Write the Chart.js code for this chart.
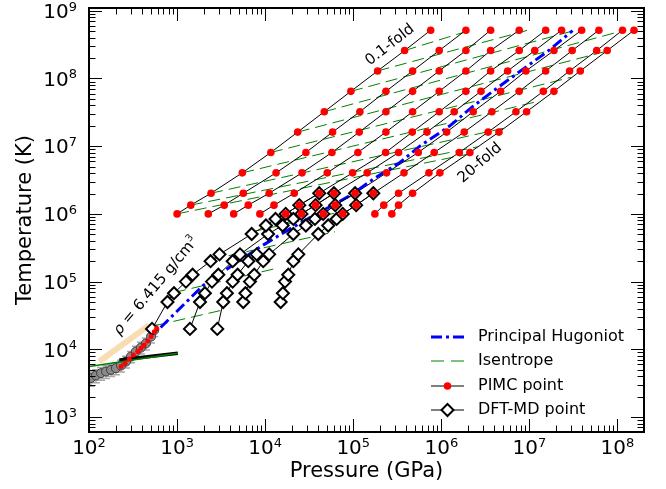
<!DOCTYPE html>
<html>
<head>
<meta charset="utf-8">
<script src="https://cdn.jsdelivr.net/npm/chart.js@4"></script>
<style>
  html, body { margin: 0; padding: 0; background: #fff; }
  #wrap { width: 666px; height: 489px; }
</style>
</head>
<body>
<div id="wrap"><canvas id="chart" width="666" height="489"></canvas></div>
<script>
// PIMC isochores: temperatures (K) and pressures (GPa), 0.1-fold ... 20-fold
const pimcT = [1.0e6, 1.347e6, 2.02e6, 4.04e6, 8.08e6, 1.616e7, 3.232e7, 6.464e7, 1.293e8, 2.586e8, 5.172e8];
const iso01 = [1000, 1430, 2430, 5500, 11600, 23400, 46900, 94000, 189000, 383000, 757000];
const iso025 = [2260, 3430, 5640, 13300, 29000, 58300, 119000, 235000, 472000, 946000, 1.9e6];
const iso05 = [4390, 6430, 11100, 26200, 57300, 117000, 235000, 472000, 946000, 1.9e6, 3.63e6];
const iso1 = [8710, 12600, 21400, 50700, 113000, 235000, 472000, 946000, 1.9e6, 3.63e6, 7.66e6];
const iso2 = [17100, 24400, 41100, 98400, 233000, 468000, 946000, 1.9e6, 3.63e6, 7.66e6, 1.53e7];
const iso3 = [25800, 37400, 60400, 144000, 327000, 687000, 1.4e6, 2.82e6, 5.66e6, 1.15e7, 2.32e7];
const iso5 = [45600, 62400, 105000, 239000, 547000, 1.15e6, 2.3e6, 4.71e6, 9.12e6, 1.9e7, 3.92e7];
const iso8 = [76000, 108000, 169000, 377000, 830000, 1.82e6, 3.75e6, 7.66e6, 1.53e7, 3.06e7, 6.15e7];
const iso15 = [176000, 222000, 327000, 723000, 1.6e6, 3.4e6, 7.03e6, 1.44e7, 2.86e7, 5.8e7, 1.14e8];
const iso20 = [274000, 327000, 472000, 964000, 2.11e6, 4.51e6, 9.29e6, 1.9e7, 3.78e7, 7.64e7, 1.54e8];

// DFT-MD isochores (null = no point at that temperature)
const dftT = [2.0e4, 5.0e4, 6.74e4, 1.0e5, 1.263e5, 2.0e5, 2.526e5, 5.05e5, 6.74e5, 8.42e5, 1.0e6, 1.347e6, 2.02e6];
const dftA = [520, 778, 922, 1260, 1500, 2400, 3030, 7030, 10200, 13100, 17100, 24400, 41100];
const dftB = [1400, 1820, 2070, 2490, 2940, 4280, 5180, 10800, 15800, 20900, 25800, 37400, 60400];
const dftC = [2860, 3340, 3680, 4280, 4870, 6430, 8010, null, null, null, null, null, null];
const dftD = [null, 5640, 5970, 6720, 7520, 9510, 11100, 20900, 29000, 36700, 45600, 62400, 105000];
const dftE = [null, 15000, 15900, 16800, 18300, 20900, 23800, 40100, 52000, 64800, 76000, 108000, 169000];

// principal Hugoniot
const hugP = [650, 1980, 4000, 8720, 19100, 41900, 91800, 169000, 339000, 570000, 1.25e6, 2.3e6, 4.6e6, 9.3e6, 1.71e7, 3.09e7];
const hugT = [2.1e4, 8.8e4, 1.64e5, 3.24e5, 6.0e5, 1.06e6, 1.86e6, 3.27e6, 5.76e6, 1.0e7, 2.0e7, 3.9e7, 7.7e7, 1.5e8, 2.67e8, 5.1e8];

// isentropes: start and end points
const isenP0 = [1000, 1430, 2430, 5500, 11600, 23400, 46900, 94200, 189000, 383000, 575, 922, 2430, 7080];
const isenT0 = [1.0e6, 1.347e6, 2.02e6, 4.04e6, 8.08e6, 1.616e7, 3.232e7, 6.464e7, 1.293e8, 2.586e8, 2.25e4, 6.89e4, 2.11e5, 5.43e5];
const isenP1 = [2.0e6, 2.58e6, 5.07e6, 1.31e7, 2.96e7, 7.59e7, 1.18e8, 3.28e7, 9.4e6, 2.11e6, 3500, 12900, 61900, 80500];
const isenT1 = [7.62e6, 9.8e6, 1.84e7, 4.66e7, 1.04e8, 2.54e8, 5.13e8, 5.13e8, 5.13e8, 5.13e8, 3.87e4, 1.55e5, 5.43e5, 1.11e6];

// low temperature data near the left edge
const expP = [105, 120, 137, 156, 178, 202, 231, 263, 300, 341, 389, 443, 506, 551];
const expT = [3750, 4100, 4440, 4700, 4960, 5260, 5760, 6590, 7810, 9250, 10600, 12200, 15400, 19200];
const expPErr = [8, 9, 10, 12, 13, 15, 17, 20, 22, 25, 29, 33, 38, 41];
const expTErr = [900, 900, 950, 1000, 1000, 1050, 1150, 1300, 1500, 1800, 2100, 2400, 3000, 3800];
const lowRedP = [231, 258, 287, 318, 357, 389, 424, 464, 506, 551, 586];
const lowRedT = [5570, 6230, 7200, 8240, 9250, 10400, 11600, 13200, 15400, 18200, 20400];
const peachP = [131, 483];
const peachT = [6590, 22700];
const greenLowP = [101, 1020];
const greenLowT = [5570, 8730];
const blackLowP = [221, 1020];
const blackLowT = [6970, 8730];

const FONT = "'DejaVu Sans', 'Liberation Sans', sans-serif";

function pts(ps, ts) {
  return ps.map((p, i) => ({ x: p, y: ts[i] })).filter((d) => d.x != null);
}

const datasets = [];

datasets.push({ data: pts(peachP, peachT), showLine: true, borderColor: "#f8dcb2", borderWidth: 6, pointRadius: 0, order: 100 });
datasets.push({ data: pts(expP, expT), showLine: false, pointRadius: 4.5, backgroundColor: "#8a8a8a", borderColor: "#3c3c3c", borderWidth: 1, order: 95 });
datasets.push({ data: pts(blackLowP, blackLowT), showLine: true, borderColor: "#000", borderWidth: 3.5, pointRadius: 0, order: 91 });
datasets.push({ data: pts(greenLowP, greenLowT), showLine: true, borderColor: "#008000", borderWidth: 1.5, pointRadius: 0, order: 90 });

isenP0.forEach((p, i) => {
  datasets.push({
    data: [{ x: p, y: isenT0[i] }, { x: isenP1[i], y: isenT1[i] }],
    showLine: true, borderColor: "#008000", borderWidth: 1, borderDash: [12, 6], pointRadius: 0, order: 80,
  });
});

const pimcLines = [iso01, iso025, iso05, iso1, iso2, iso3, iso5, iso8, iso15, iso20];
pimcLines.forEach((line) => {
  datasets.push({ data: pts(line, pimcT), showLine: true, borderColor: "#000", borderWidth: 1, pointRadius: 0, order: 60 });
});

datasets.push({
  data: pts(hugP, hugT), showLine: true, borderColor: "#0000ff", borderWidth: 3,
  borderDash: [11, 4, 3, 4], pointRadius: 0, order: 50,
});

[dftA, dftB, dftC, dftD, dftE].forEach((chain) => {
  datasets.push({
    data: pts(chain, dftT), showLine: true, borderColor: "#000", borderWidth: 1,
    pointStyle: "rectRot", pointRadius: 6, pointBackgroundColor: "#fff",
    pointBorderColor: "#000", pointBorderWidth: 2, order: 40,
  });
});

datasets.push({ data: pts(lowRedP, lowRedT), showLine: false, pointRadius: 2.5, backgroundColor: "#ff0000", borderWidth: 0, order: 30 });
datasets.push({
  data: pimcLines.flatMap((line) => pts(line, pimcT)),
  showLine: false, pointRadius: 3.8, backgroundColor: "#ff0000", borderWidth: 0, order: 20,
});

// error bars of the low temperature data
const errorBars = {
  id: "errorBars",
  beforeDatasetsDraw(chart) {
    const { ctx, chartArea: a, scales: { x, y } } = chart;
    ctx.save();
    ctx.beginPath();
    ctx.rect(a.left, a.top, a.right - a.left, a.bottom - a.top);
    ctx.clip();
    ctx.strokeStyle = "#a8a8a8";
    ctx.lineWidth = 1.5;
    expP.forEach((p, i) => {
      const px = x.getPixelForValue(p), py = y.getPixelForValue(expT[i]);
      const x0 = x.getPixelForValue(p - expPErr[i]), x1 = x.getPixelForValue(p + expPErr[i]);
      const y0 = y.getPixelForValue(expT[i] - expTErr[i]), y1 = y.getPixelForValue(expT[i] + expTErr[i]);
      ctx.beginPath();
      ctx.moveTo(px, y0); ctx.lineTo(px, y1);
      ctx.moveTo(px - 4, y0); ctx.lineTo(px + 4, y0);
      ctx.moveTo(px - 4, y1); ctx.lineTo(px + 4, y1);
      ctx.moveTo(x0, py); ctx.lineTo(x1, py);
      ctx.moveTo(x0, py - 3); ctx.lineTo(x0, py + 3);
      ctx.moveTo(x1, py - 3); ctx.lineTo(x1, py + 3);
      ctx.stroke();
    });
    ctx.restore();
  },
};

function measureParts(ctx, parts) {
  let w = 0;
  parts.forEach((p) => { ctx.font = p.font; p.w = ctx.measureText(p.t).width; w += p.w; });
  return w;
}

function rotText(ctx, parts, cx, cy, deg) {
  ctx.save();
  ctx.translate(cx, cy);
  ctx.rotate((deg * Math.PI) / 180);
  const w = measureParts(ctx, parts);
  let xx = -w / 2;
  ctx.textAlign = "left";
  ctx.textBaseline = "middle";
  parts.forEach((p) => { ctx.font = p.font; ctx.fillText(p.t, xx, p.dy || 0); xx += p.w; });
  ctx.restore();
}

// axes frame, inward ticks, labels, annotations and legend
const frame = {
  id: "frame",
  afterDraw(chart) {
    const { ctx, chartArea: a, scales: { x, y } } = chart;
    ctx.save();
    ctx.fillStyle = "#000";
    ctx.strokeStyle = "#000";
    ctx.lineWidth = 1;

    const tick = (x0, y0, x1, y1) => { ctx.beginPath(); ctx.moveTo(x0, y0); ctx.lineTo(x1, y1); ctx.stroke(); };
    for (let e = 2; e <= 8; e++) {
      for (let m = 1; m <= 9; m++) {
        const v = m * Math.pow(10, e);
        if (v > x.max) break;
        const px = Math.round(x.getPixelForValue(v)) + 0.5;
        const len = m === 1 ? 13 : 6.5;
        tick(px, a.bottom, px, a.bottom - len);
        tick(px, a.top, px, a.top + len);
      }
    }
    for (let e = 2; e <= 9; e++) {
      for (let m = 1; m <= 9; m++) {
        const v = m * Math.pow(10, e);
        if (v < y.min || v > y.max) continue;
        const py = Math.round(y.getPixelForValue(v)) + 0.5;
        const len = m === 1 ? 13 : 6.5;
        tick(a.left, py, a.left + len, py);
        tick(a.right, py, a.right - len, py);
      }
    }
    ctx.lineWidth = 2;
    ctx.strokeRect(a.left, a.top, a.right - a.left, a.bottom - a.top);

    // tick labels
    ctx.textAlign = "left";
    ctx.textBaseline = "alphabetic";
    const big = "20px " + FONT, small = "13px " + FONT;
    for (let e = 2; e <= 8; e++) {
      const parts = [{ t: "10", font: big }, { t: String(e), font: small }];
      const w = measureParts(ctx, parts);
      const px = x.getPixelForValue(Math.pow(10, e));
      const xx = px - w / 2;
      ctx.font = big; ctx.fillText("10", xx, a.bottom + 22);
      ctx.font = small; ctx.fillText(String(e), xx + parts[0].w, a.bottom + 14.5);
    }
    for (let e = 3; e <= 9; e++) {
      const parts = [{ t: "10", font: big }, { t: String(e), font: small }];
      const w = measureParts(ctx, parts);
      const py = y.getPixelForValue(Math.pow(10, e));
      const xx = 77 - w;
      ctx.font = big; ctx.fillText("10", xx, py + 7.3);
      ctx.font = small; ctx.fillText(String(e), xx + parts[0].w, py);
    }

    // axis titles
    ctx.font = "21px " + FONT;
    ctx.textAlign = "center";
    ctx.textBaseline = "middle";
    ctx.fillText("Pressure (GPa)", (a.left + a.right) / 2, 472);
    ctx.save();
    ctx.translate(26, (a.top + a.bottom) / 2);
    ctx.rotate(-Math.PI / 2);
    ctx.fillText("Temperature (K)", 0, 0);
    ctx.restore();

    // annotations
    const f15 = "15px " + FONT;
    rotText(ctx, [{ t: "0.1-fold", font: f15 }], 390, 45, -38);
    rotText(ctx, [{ t: "20-fold", font: f15 }], 480, 163, -41);
    rotText(ctx, [
      { t: "ρ", font: "italic 15px " + FONT },
      { t: " = 6.415 g/cm", font: "15px " + FONT },
      { t: "3", font: "10px " + FONT, dy: -5 },
    ], 156, 286, -50);

    // legend
    const lx0 = 431, lx1 = 464, tx = 478;
    const rows = [337, 361, 386, 410];
    ctx.font = "16px " + FONT;
    ctx.textAlign = "left";
    ctx.textBaseline = "middle";
    const sample = (yy, color, width, dash) => {
      ctx.save();
      ctx.strokeStyle = color; ctx.lineWidth = width; ctx.setLineDash(dash);
      ctx.beginPath(); ctx.moveTo(lx0, yy); ctx.lineTo(lx1, yy); ctx.stroke();
      ctx.restore();
    };
    sample(rows[0], "#0000ff", 3, [11, 4, 3, 4]);
    sample(rows[1], "#008000", 1, [13, 7]);
    sample(rows[2], "#000", 1, []);
    sample(rows[3], "#000", 1, []);
    const mx = (lx0 + lx1) / 2;
    ctx.fillStyle = "#ff0000";
    ctx.beginPath(); ctx.arc(mx, rows[2], 3.8, 0, Math.PI * 2); ctx.fill();
    ctx.fillStyle = "#fff";
    ctx.strokeStyle = "#000";
    ctx.lineWidth = 2;
    ctx.beginPath();
    ctx.moveTo(mx, rows[3] - 6); ctx.lineTo(mx + 6, rows[3]);
    ctx.lineTo(mx, rows[3] + 6); ctx.lineTo(mx - 6, rows[3]);
    ctx.closePath(); ctx.fill(); ctx.stroke();
    ctx.fillStyle = "#000";
    ctx.fillText("Principal Hugoniot", tx, rows[0]);
    ctx.fillText("Isentrope", tx, rows[1]);
    ctx.fillText("PIMC point", tx, rows[2]);
    ctx.fillText("DFT-MD point", tx, rows[3]);
    ctx.restore();
  },
};

new Chart(document.getElementById("chart").getContext("2d"), {
  type: "scatter",
  data: { datasets },
  options: {
    responsive: false,
    animation: false,
    devicePixelRatio: 1,
    layout: { padding: { left: 89, right: 22, top: 8, bottom: 57 } },
    scales: {
      x: { type: "logarithmic", min: 100, max: 2e8, display: false },
      y: { type: "logarithmic", min: 600, max: 1.1e9, display: false },
    },
    elements: { line: { tension: 0 } },
    plugins: { legend: { display: false }, tooltip: { enabled: false } },
  },
  plugins: [errorBars, frame],
});
</script>
</body>
</html>
